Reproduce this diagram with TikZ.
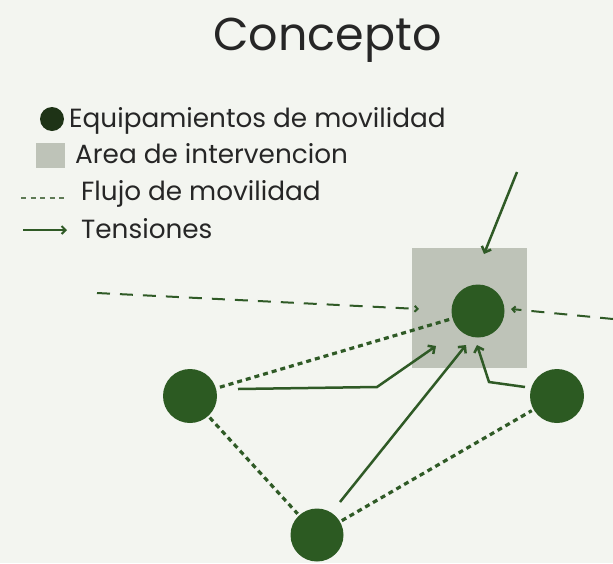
\documentclass[tikz,border=0pt]{standalone}
\usepackage{fontspec}
\setmainfont{Poppins}
\usetikzlibrary{arrows.meta}
\definecolor{bg}{HTML}{F3F5F0}
\definecolor{eq}{HTML}{2C5A22}
\definecolor{eqdark}{HTML}{1E3316}
\definecolor{area}{HTML}{BEC3B8}
\definecolor{ln}{HTML}{2F5A26}
\definecolor{legdash}{HTML}{5E7A55}
\definecolor{txtc}{HTML}{262626}
\begin{document}
\begin{tikzpicture}[x=1pt,y=-1pt,
  eqnode/.style={circle,fill=eq,inner sep=0pt,minimum size=54pt},
  flowdot/.style={draw=ln,line width=3.2pt,dash pattern=on 5pt off 4pt},
  flowlong/.style={draw=ln,line width=2pt,dash pattern=on 13pt off 10pt},
  tensionarrow/.style={draw=ln,line width=2.5pt,-{Straight Barb[length=5pt,width=10pt]}},
  smalltip/.style={-{Straight Barb[length=3pt,width=6pt]}},
  txt/.style={anchor=base west,inner sep=0pt,font=\fontsize{26.3}{30}\selectfont,text=txtc}]
\fill[bg] (0,0) rectangle (613,563);
\useasboundingbox (0,0) rectangle (613,563);
% title
\node[anchor=base,inner sep=0pt,font=\fontsize{46}{54}\selectfont,text=txtc] (title) at (327.5,50) {Concepto};
% legend
\node[circle,fill=eqdark,inner sep=0pt,minimum size=24pt] (legc) at (52,119) {};
\node[txt] (l1) at (69,127) {Equipamientos de movilidad};
\node[rectangle,fill=area,inner sep=0pt,minimum width=29pt,minimum height=25pt] (legs) at (50.5,155.5) {};
\node[txt] (l2) at (75,163) {Area de intervencion};
\coordinate (ld1) at (21,198);
\coordinate (ld2) at (65,198);
\draw[draw=legdash,line width=2.2pt,dash pattern=on 5pt off 4.5pt] (ld1) -- (ld2);
\node[txt] (l3) at (81,200) {Flujo de movilidad};
\coordinate (la1) at (23,230);
\coordinate (la2) at (67,230);
\draw[draw=ln,line width=2pt,-{Straight Barb[length=4pt,width=8pt]}] (la1) -- (la2);
\node[txt] (l4) at (81,238) {Tensiones};
% area
\node[rectangle,fill=area,inner sep=0pt,minimum width=115pt,minimum height=120pt] (area) at (469.5,308) {};
% equipment nodes
\node[eqnode,minimum size=53pt] (c0) at (478,311) {};
\node[eqnode] (c1) at (190,396) {};
\node[eqnode] (c2) at (557,396) {};
\node[eqnode,minimum size=53pt] (c3) at (317,535) {};
% dotted flows
\draw[flowdot,shorten <=4pt,shorten >=3pt] (c1) -- (c0);
\draw[flowdot,shorten <=2pt,shorten >=2pt] (c1) -- (c3);
\draw[flowdot,shorten <=2pt,shorten >=2pt] (c3) -- (c2);
% long dashed flows
\coordinate (wl) at (97,293);
\coordinate (wlend) at (419,309);
\coordinate (wr) at (613,319);
\coordinate (wrend) at (511,309);
\draw[flowlong,smalltip] (wl) -- (wlend);
\draw[flowlong,smalltip] (wr) -- (wrend);
% tensions
\coordinate (t0) at (517,172);
\coordinate (a0) at (484,254);
\draw[tensionarrow] (t0) -- (a0);
\coordinate (s1) at (238,389);
\coordinate (k1) at (377,387);
\coordinate (a1) at (436,346);
\draw[tensionarrow] (s1) -- (k1) -- (a1);
\coordinate (s3) at (340,502);
\coordinate (a3) at (466,345);
\draw[tensionarrow] (s3) -- (a3);
\coordinate (s2) at (525,387);
\coordinate (k2) at (489,382);
\coordinate (a2) at (477,345);
\draw[tensionarrow] (s2) -- (k2) -- (a2);
\end{tikzpicture}
\end{document}
